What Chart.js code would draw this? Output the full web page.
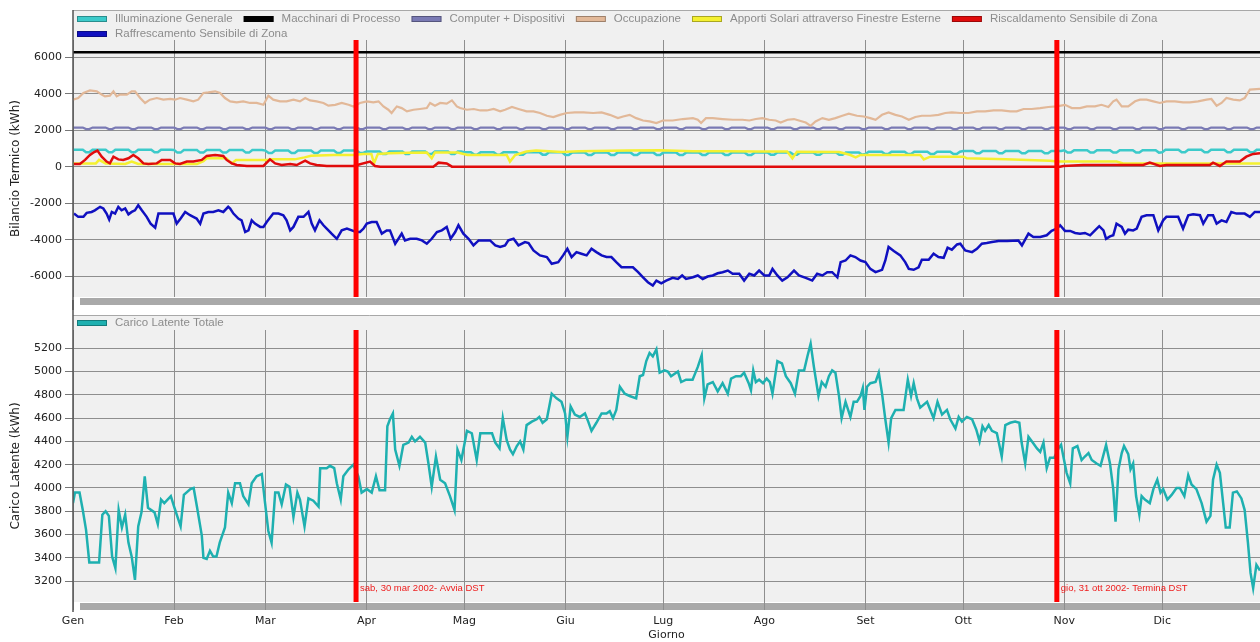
<!DOCTYPE html>
<html lang="it">
<head>
<meta charset="utf-8">
<title>Bilancio termico e carico latente</title>
<script src="https://cdn.jsdelivr.net/npm/chart.js@4.4.1/dist/chart.umd.min.js"></script>
<style>
  html, body { margin: 0; padding: 0; background: #fff; }
  #sopra { position: absolute; left: 0; top: 0; }
  #sotto { position: absolute; left: 0; top: 300px; }
</style>
</head>
<body>
<canvas id="sopra" width="1260" height="310"></canvas>
<canvas id="sotto" width="1260" height="342"></canvas>
<script>
// asse dei giorni (0 = 1 gen 2002)
const mesi = ['Gen', 'Feb', 'Mar', 'Apr', 'Mag', 'Giu', 'Lug', 'Ago', 'Set', 'Ott', 'Nov', 'Dic'];
const inizioMese = [0, 31, 59, 90, 120, 151, 181, 212, 243, 273, 304, 334];
const tickBilancio = [-6000, -4000, -2000, 0, 2000, 4000, 6000];
const tickLatente = [3200, 3400, 3600, 3800, 4000, 4200, 4400, 4600, 4800, 5000, 5200];

// cambi d'ora
const giorniDST = [86.8, 301.7];
const etichetteDST = ['sab, 30 mar 2002- Avvia DST', 'gio, 31 ott 2002- Termina DST'];

// livelli mensili (giorni feriali / festivi)
const illuminazioneFeriale = [930, 910, 880, 830, 790, 770, 770, 780, 820, 860, 900, 930];
const illuminazioneFestivo = [790, 770, 750, 700, 660, 640, 640, 650, 690, 730, 770, 790];
const computerFeriale = [2140, 2140, 2140, 2140, 2140, 2140, 2140, 2140, 2140, 2140, 2140, 2140];
const computerFestivo = [2060, 2060, 2060, 2060, 2060, 2060, 2060, 2060, 2060, 2060, 2060, 2060];

const macchinari = [[0, 6270], [364, 6270]];

const occupazione = [[0,3670],[1.6,3760],[3.2,4040],[5.2,4180],[7.3,4130],[8.8,3950],[9.8,3850],[11.3,3890],[12.4,4130],[13.4,3850],[14.4,3950],[16.5,3950],[18,4130],[19,4130],[20.6,3760],[22.1,3490],[23.6,3670],[25.7,3760],[27.7,3670],[29.8,3710],[31.3,3670],[32.8,3760],[34.9,3670],[36.9,3580],[38.4,3670],[40,4040],[41.5,4070],[43.6,4130],[45.1,4040],[46.6,3760],[48.2,3580],[50.2,3520],[52.2,3580],[54.3,3490],[56.3,3490],[58.4,3390],[59.9,3890],[61.4,3670],[63.5,3580],[65.5,3580],[67.6,3670],[69.6,3580],[71.2,3760],[72.7,3630],[74.7,3580],[76.8,3490],[78.3,3340],[80.4,3390],[82.4,3490],[84.5,3390],[86,3300],[88,3490],[90.1,3580],[92.1,3520],[93.7,3580],[95.2,3300],[96.7,3120],[97.7,2940],[99.3,3300],[100.8,3210],[102.4,3030],[104.4,3120],[106.4,3160],[108.5,3210],[109.5,3490],[111,3340],[112.6,3490],[114.6,3450],[116.2,3630],[117.7,3300],[118.7,3210],[120.8,3120],[122.9,3160],[124.9,3080],[126.9,3080],[129,3160],[131,3030],[132.5,3120],[134.6,3270],[136.6,3160],[139.1,3030],[141.2,3030],[143.2,2940],[145.3,2790],[147.3,2720],[149.3,2840],[151.4,2940],[153.9,2970],[156.5,2970],[159.5,2940],[162.1,2970],[164.6,2840],[167.1,2660],[168.7,2750],[170.7,2840],[172.7,2660],[174.8,2530],[176.8,2480],[178.9,2390],[180.9,2530],[183.9,2530],[187,2610],[190.1,2660],[191.6,2570],[192.6,2390],[194.1,2660],[196.2,2660],[199.2,2610],[202.3,2570],[205.3,2570],[207.4,2530],[209.4,2610],[211.4,2660],[213.5,2570],[215.5,2530],[217,2420],[219.1,2570],[221.1,2610],[222.6,2530],[224.7,2420],[226.2,2240],[227.7,2480],[229.8,2660],[231.8,2570],[233.8,2660],[235.9,2790],[237.9,2900],[240.4,2790],[242.5,2750],[244.5,2660],[246.1,2570],[248.1,2840],[250.1,2970],[252.2,2840],[254.2,2750],[256.3,2570],[258.3,2720],[260.3,2790],[262.9,2790],[265.4,2840],[267.5,2940],[269.5,2970],[272.1,2940],[274.6,2940],[277.2,3030],[279.7,3030],[282.3,3080],[284.8,3080],[287.4,3030],[289.4,3030],[291.5,3160],[294,3160],[296.6,3210],[299.1,3270],[301.7,3300],[304.2,3390],[306.3,3210],[308.8,3210],[310.9,3300],[313.4,3300],[315.4,3390],[317.5,3270],[319,3580],[320,3670],[321.6,3300],[323.6,3300],[325.7,3580],[327.2,3670],[329.2,3670],[331.3,3580],[333.3,3490],[335.3,3580],[337.9,3580],[340.4,3520],[342.5,3520],[345,3580],[347.6,3670],[349.1,3710],[350.7,3340],[352.2,3490],[353.7,3760],[355.8,3670],[357.8,3630],[359.3,3760],[360.9,4220],[364,4260]];

const apportiSolari = [[0,180],[7,180],[8,370],[10,180],[16,150],[18,280],[20,150],[38,150],[40,300],[41,460],[47,460],[48.7,180],[50,370],[59.4,370],[61,400],[68,400],[71,510],[73,600],[80,640],[86,640],[89,700],[91.5,700],[92.3,180],[93.5,700],[97,730],[103,760],[108.5,780],[110,460],[111,780],[118,780],[121,640],[133,640],[134,280],[135.6,640],[139,830],[142,880],[150,800],[155,850],[170,880],[180,900],[190,840],[200,850],[210,830],[219,830],[220.6,460],[222,820],[235,800],[238.4,640],[240,510],[241.5,640],[259.8,640],[260.9,400],[262.9,550],[273.1,550],[274.1,460],[286,400],[299.6,330],[301.7,280],[320,280],[322,180],[364,170]];

const riscaldamento = [[0.3,150],[2.1,150],[3.7,370],[5.2,640],[6.2,770],[7.5,880],[8.8,550],[10.3,280],[11.3,180],[12.4,550],[13.9,400],[15.4,370],[17,460],[18.5,640],[20,460],[21.6,180],[23.1,150],[25.7,180],[27.2,370],[29.8,370],[31.3,180],[32.8,150],[34.9,280],[36.9,280],[39.5,370],[41,590],[43.6,640],[46.1,590],[47.1,370],[48.7,180],[50.2,90],[53.3,40],[58.4,40],[60.4,400],[62,180],[64,90],[66.6,150],[68.6,90],[71.2,330],[72.7,180],[74.7,90],[77.8,40],[86,40],[91.1,280],[92.6,40],[94.2,0],[110.5,0],[112.1,220],[114.6,180],[116.2,0],[302.7,0],[303.7,40],[309.8,90],[328.2,90],[330.2,220],[333.3,40],[335.3,90],[348.6,90],[349.6,220],[351.7,40],[353.7,280],[357.8,280],[359.8,550],[361.9,700],[364,730]];

const raffrescamento = [[0.3,-2570],[1.6,-2750],[3.2,-2750],[4.2,-2530],[5.7,-2480],[6.7,-2390],[8.3,-2200],[9.3,-2290],[10.3,-2570],[11.1,-2900],[11.9,-2480],[12.9,-2570],[13.9,-2200],[14.9,-2390],[16,-2290],[17,-2610],[18,-2480],[19,-2390],[20,-2110],[21.1,-2390],[22.6,-2750],[23.8,-3120],[25.2,-3340],[26.2,-2570],[27.7,-2570],[30.8,-2570],[31.8,-3120],[33,-2840],[34.4,-2480],[35.9,-2660],[36.9,-2750],[37.9,-2840],[39,-3120],[40,-2570],[41.5,-2480],[43,-2480],[44.6,-2390],[46.1,-2480],[47.6,-2200],[48.2,-2290],[49.2,-2570],[50.7,-2840],[51.7,-2940],[52.8,-3580],[53.8,-3490],[54.8,-2940],[55.8,-3120],[57.4,-3300],[58.4,-3300],[59.4,-3030],[61.4,-2570],[63,-2570],[64.5,-2660],[65.5,-2940],[66.6,-3490],[67.6,-3300],[69.1,-2750],[70.7,-2750],[72.2,-2480],[73.2,-3120],[74.2,-3490],[75.6,-2940],[76.8,-3210],[77.8,-3390],[79.3,-3670],[80.9,-3950],[82.4,-3490],[84,-3390],[85.5,-3490],[86.8,-3580],[88,-3580],[89.1,-3390],[90.1,-3120],[91.6,-3030],[93.1,-3030],[94.7,-3670],[96.2,-3490],[97.2,-3490],[98.8,-4220],[99.8,-3950],[100.8,-3670],[101.8,-4040],[103.4,-3950],[105.4,-3950],[107,-4040],[108.5,-4220],[110,-3950],[111.6,-3580],[113.1,-3490],[114.6,-3300],[115.8,-3950],[117.2,-3580],[118.2,-3210],[119.7,-3670],[121.3,-3950],[122.8,-4310],[124.4,-4040],[125.9,-4040],[127.9,-4040],[129.5,-4310],[131,-4400],[132.5,-4310],[133.5,-4040],[135.1,-3950],[136.6,-4310],[138.6,-4130],[139.7,-4180],[141.2,-4590],[143.2,-4860],[145.3,-4950],[146.8,-5320],[148.8,-5230],[150.3,-4860],[151.6,-4500],[152.9,-4950],[154.4,-4680],[155.9,-4770],[157.5,-4860],[159,-4500],[160.5,-4680],[162.1,-4860],[163.6,-4950],[165.1,-4950],[166.6,-5230],[168.2,-5510],[170.2,-5510],[171.7,-5510],[173.3,-5780],[174.8,-6060],[176.3,-6330],[177.8,-6510],[178.9,-6240],[180.4,-6390],[181.9,-6240],[183.9,-6090],[185.5,-6150],[186.8,-5960],[188,-6150],[190.1,-6060],[191.6,-5960],[193.1,-6150],[194.6,-6020],[196.2,-5960],[197.7,-5840],[199.2,-5780],[200.8,-5690],[202.3,-5870],[204.3,-5870],[205.8,-6240],[207.4,-5870],[208.9,-5960],[210.4,-5690],[212,-5960],[213.5,-5960],[214.5,-5600],[216,-5960],[217.5,-6240],[219.1,-6060],[221.1,-5690],[222.6,-5960],[224.7,-6090],[226.7,-6240],[228.2,-5870],[229.8,-5960],[231.3,-5780],[232.8,-5780],[234.4,-6060],[235.4,-5230],[236.9,-5140],[238.4,-4860],[239.9,-4950],[241.5,-5140],[243,-5230],[244.5,-5600],[246.1,-5780],[248.1,-5650],[249.1,-5140],[250.1,-4400],[251.7,-4620],[253.7,-4860],[255.2,-5230],[256.3,-5600],[257.8,-5650],[259.3,-5510],[260.3,-5100],[262.4,-5100],[263.9,-4770],[265.4,-4950],[267,-4990],[268.2,-4440],[269.5,-4550],[271.1,-4260],[272.1,-4220],[273.6,-4590],[275.7,-4680],[277.2,-4500],[278.7,-4220],[280.2,-4180],[281.8,-4130],[283.8,-4070],[286.4,-4070],[289.9,-4040],[291,-4310],[293,-3670],[294.5,-3850],[296.6,-3850],[298.6,-3760],[300.1,-3520],[301.7,-3390],[302.7,-3210],[304.2,-3520],[305.8,-3520],[307.3,-3630],[308.8,-3670],[310.3,-3630],[311.9,-3760],[313.4,-3490],[314.7,-3260],[316,-3490],[316.8,-3950],[318,-3820],[319,-3760],[320,-3120],[321.6,-3300],[322.6,-3670],[323.6,-3450],[325.1,-3490],[326.2,-3390],[327.7,-2750],[329.2,-2660],[331.3,-2660],[332.8,-3490],[334.3,-2940],[335.3,-2750],[337.4,-2750],[338.9,-2750],[340.4,-3390],[342,-2660],[343.5,-2610],[345.6,-2660],[346.6,-3120],[348.1,-2660],[349.6,-2660],[350.7,-3120],[352.2,-2940],[353.7,-3030],[355.2,-2480],[356.8,-2570],[359.3,-2570],[360.9,-2750],[362.4,-2480],[364,-2480]];

const caricoLatente = [[0,3870],[0.6,3960],[2,3960],[3,3810],[4,3640],[5,3360],[8,3360],[9,3770],[10,3800],[11,3760],[12,3410],[13,3310],[14,3810],[15,3660],[16,3770],[17,3530],[18,3410],[19,3210],[20,3670],[21,3790],[22,4100],[23,3830],[25,3790],[26,3690],[27,3900],[28,3870],[30,3930],[31,3840],[33,3670],[34,3940],[36,3990],[37,4000],[38,3840],[39.5,3590],[40,3400],[41,3390],[42,3460],[43,3410],[44,3410],[45,3530],[46.6,3660],[47.6,3960],[48.7,3870],[49.7,4040],[51.2,4040],[52.2,3930],[53.8,3860],[54.8,4040],[56.3,4100],[57.9,4120],[58.9,3870],[59.9,3630],[60.9,3530],[62,3960],[63,3960],[64,3860],[65.3,4030],[66.4,4010],[67.6,3750],[68.8,3960],[69.6,3900],[71,3670],[72.2,3910],[73.7,3890],[75.3,3840],[75.8,4170],[77.8,4170],[78.8,4190],[80.1,4170],[80.9,4040],[82.1,3900],[82.9,4100],[84.5,4160],[86,4200],[87.5,4100],[88.5,3960],[90.1,3990],[91.6,3960],[92.9,4100],[94,3980],[95.7,3980],[96.4,4530],[97.2,4590],[98.1,4640],[98.8,4330],[100.1,4190],[101.3,4370],[102.9,4390],[103.9,4440],[104.9,4400],[106.4,4440],[108,4390],[109,4210],[110,4010],[111.3,4270],[112.6,4070],[114.1,4040],[115.6,3930],[117,3810],[117.9,4330],[119.1,4240],[120.8,4490],[122.3,4470],[123.8,4240],[124.9,4470],[126.4,4470],[128.5,4470],[129.5,4390],[130.8,4340],[131.8,4600],[133,4410],[134,4330],[134.9,4290],[136.1,4360],[137.1,4400],[138.1,4330],[139.1,4540],[140.7,4570],[142.2,4590],[143,4610],[144,4560],[145.3,4590],[146.8,4810],[148.3,4770],[149.8,4740],[150.9,4640],[151.6,4440],[152.6,4700],[153.9,4630],[155.4,4610],[157,4640],[158,4570],[159,4490],[160.5,4560],[162.1,4640],[163.6,4640],[164.6,4660],[165.6,4600],[166.6,4670],[167.7,4870],[169.2,4810],[170.7,4790],[172.7,4770],[173.8,4960],[174.8,4970],[175.8,5090],[176.8,5160],[177.8,5130],[178.9,5190],[179.9,4990],[181.4,5010],[182.4,5000],[183.4,4960],[185.5,5000],[186.5,4910],[188,4930],[190,4930],[191.6,5040],[192.8,5140],[193.6,4770],[194.6,4890],[196.2,4910],[197.7,4830],[199.2,4900],[200.8,4810],[201.8,4940],[203.3,4960],[204.8,4960],[205.8,4990],[207.2,4900],[207.9,4840],[208.6,5010],[209.4,4910],[210.4,4930],[211.6,4900],[212.7,4940],[213.7,4910],[214.5,4810],[216,5090],[217.4,5070],[218.6,4960],[220.1,4900],[221.4,4810],[222.6,5010],[224.2,5010],[225.2,5130],[226.2,5240],[227.2,5040],[228.6,4790],[229.6,4910],[230.8,4870],[231.8,4960],[232.8,5010],[233.8,4990],[234.9,4790],[235.7,4600],[236.9,4740],[238.4,4610],[239.4,4740],[240.4,4740],[241.5,4790],[242.2,4860],[242.7,4670],[243.5,4870],[244.5,4900],[246.1,4910],[247.1,4990],[248.1,4810],[249.1,4590],[250.1,4390],[250.9,4600],[252.2,4670],[253.7,4670],[254.7,4670],[256,4930],[257,4790],[257.8,4900],[258.8,4770],[259.8,4690],[261.9,4740],[262.9,4670],[263.9,4600],[265.1,4740],[266.5,4630],[268,4670],[269,4590],[270.6,4510],[271.6,4610],[272.6,4570],[274.1,4610],[275.7,4590],[277,4500],[278,4400],[278.9,4530],[279.7,4490],[280.8,4540],[281.8,4490],[283.3,4470],[284.8,4270],[285.9,4540],[287.4,4560],[288.9,4570],[290.2,4560],[290.9,4390],[292,4210],[293,4440],[294.3,4390],[295.6,4340],[296.6,4310],[297.6,4390],[298.6,4170],[299.6,4260],[300.9,4260],[302.2,4340],[303,4370],[303.7,4270],[304.7,4130],[305.8,4040],[306.6,4340],[308,4360],[309.3,4240],[310.3,4270],[311.4,4300],[312.4,4240],[313.9,4210],[315.1,4190],[316.8,4370],[318,4210],[319,3990],[319.7,3710],[320.6,4160],[321.6,4300],[322.3,4360],[323.6,4290],[324.3,4160],[325.1,4210],[326,3930],[327,3770],[327.7,3930],[328.7,3900],[330.2,3870],[331.3,3990],[332.5,4070],[333.5,3960],[334.3,3990],[335.6,3900],[336.9,3940],[338.4,4000],[339.4,4000],[340.8,3930],[342,4110],[343,4030],[344.5,3990],[346.1,3870],[347.6,3710],[348.8,3760],[349.6,4070],[350.7,4200],[351.7,4130],[352.7,3870],[353.5,3660],[354.7,3660],[355.7,3960],[356.9,3970],[358.3,3910],[359.3,3810],[360.3,3530],[361.1,3270],[361.9,3140],[362.9,3340],[364,3290]];

// --- costruzione serie ---
const punti = arr => arr.map(([x, y]) => ({x: x, y: y}));

// serie giornaliera dai livelli mensili: sabato e domenica usano il valore festivo
function giornaliera(feriale, festivo) {
  const out = [];
  for (let g = 0; g < 365; g++) {
    let m = 0;
    while (m < 11 && inizioMese[m + 1] <= g) m++;
    const dow = (g + 2) % 7; // 1 gen 2002 era martedi
    out.push({x: g, y: (dow === 0 || dow === 6) ? festivo[m] : feriale[m]});
  }
  return out;
}

const FONT_ASSI = '"DejaVu Sans", Verdana, sans-serif';
const FONT_LEGENDA = '"Liberation Sans", Arial, sans-serif';
Chart.defaults.font.family = FONT_ASSI;
Chart.defaults.font.size = 11;
Chart.defaults.color = '#222';

const GRIGLIA = '#8e8e8e';

// sfondo del pannello, linee DST, legenda interna, banda grigia sotto il grafico
const cornice = {
  id: 'cornice',
  beforeDraw(chart, args, opts) {
    const {ctx, chartArea: a} = chart;
    ctx.save();
    ctx.fillStyle = '#f0f0f0';
    ctx.fillRect(a.left, opts.pannelloTop, a.right - a.left, a.bottom - opts.pannelloTop);
    ctx.strokeStyle = '#a8a8a8';
    ctx.lineWidth = 1;
    ctx.beginPath();
    ctx.moveTo(a.left, opts.pannelloTop + 0.5);
    ctx.lineTo(a.right, opts.pannelloTop + 0.5);
    ctx.stroke();
    ctx.fillStyle = '#a9a9a9';
    ctx.fillRect(a.left + 7, a.bottom + 1, a.right - a.left - 7, 7);
    ctx.restore();
  },
  afterDatasetsDraw(chart, args, opts) {
    const {ctx, chartArea: a, scales: {x}} = chart;
    ctx.save();
    giorniDST.forEach((g, i) => {
      const px = x.getPixelForValue(g);
      ctx.strokeStyle = '#ff0000';
      ctx.lineWidth = 5;
      ctx.beginPath();
      ctx.moveTo(px, a.top);
      ctx.lineTo(px, a.bottom);
      ctx.stroke();
      if (opts.etichette) {
        ctx.fillStyle = '#ee1c1c';
        ctx.font = '9.5px ' + FONT_LEGENDA;
        ctx.textBaseline = 'middle';
        ctx.fillText(etichetteDST[i], px + 4, a.bottom - 14);
      }
    });
    ctx.restore();
  },
  afterDraw(chart, args, opts) {
    const {ctx, chartArea: a} = chart;
    ctx.save();
    // asse sinistro prolungato
    ctx.strokeStyle = '#555';
    ctx.lineWidth = 1.5;
    ctx.beginPath();
    ctx.moveTo(a.left, opts.assaDa);
    ctx.lineTo(a.left, opts.assaA);
    ctx.stroke();
    // legenda
    ctx.font = '11.5px ' + FONT_LEGENDA;
    ctx.textBaseline = 'middle';
    let lx = a.left + 4, ly = opts.legendaY;
    chart.data.datasets.forEach(ds => {
      const w = 38 + ctx.measureText(ds.label).width;
      if (lx + w > a.right - 10) { lx = a.left + 4; ly += 15; }
      ctx.fillStyle = ds.borderColor;
      ctx.fillRect(lx, ly - 3, 30, 6);
      ctx.strokeStyle = 'rgba(0,0,0,0.3)';
      ctx.lineWidth = 1;
      ctx.strokeRect(lx + 0.5, ly - 2.5, 29, 5);
      ctx.fillStyle = '#8c8c8c';
      ctx.fillText(ds.label, lx + 38, ly);
      lx += w + 11;
    });
    ctx.restore();
  }
};

function serie(label, colore, dati, spessore, ordine) {
  return {
    label: label, data: dati, borderColor: colore, backgroundColor: colore,
    borderWidth: spessore, pointRadius: 0, tension: 0, fill: false, order: ordine
  };
}

const numero = v => String(v);

new Chart(document.getElementById('sopra'), {
  type: 'line',
  data: {
    datasets: [
      serie('Illuminazione Generale', '#3ccaca', giornaliera(illuminazioneFeriale, illuminazioneFestivo), 2.5, 7),
      serie('Macchinari di Processo', '#000000', punti(macchinari), 2.5, 6),
      serie('Computer + Dispositivi', '#7a7ab4', giornaliera(computerFeriale, computerFestivo), 2.2, 5),
      serie('Occupazione', '#e2b898', punti(occupazione), 2.2, 4),
      serie('Apporti Solari attraverso Finestre Esterne', '#f4f030', punti(apportiSolari), 2.5, 3),
      serie('Riscaldamento Sensibile di Zona', '#e00c0c', punti(riscaldamento), 2.5, 2),
      serie('Raffrescamento Sensibile di Zona', '#1010c0', punti(raffrescamento), 2.5, 1)
    ]
  },
  options: {
    responsive: false,
    devicePixelRatio: 1,
    animation: false,
    layout: { padding: { top: 40, bottom: 13, left: 0, right: 0 } },
    plugins: {
      legend: { display: false },
      tooltip: { enabled: false },
      cornice: { pannelloTop: 10, legendaY: 19, etichette: false, assaDa: 10, assaA: 310 }
    },
    scales: {
      x: {
        type: 'linear', min: 0, max: 364,
        afterBuildTicks: s => { s.ticks = inizioMese.map(v => ({value: v})); },
        afterFit: s => { s.height = 0; },
        ticks: { display: false },
        grid: { color: GRIGLIA, lineWidth: 1, drawTicks: false },
        border: { display: false }
      },
      y: {
        min: -7140, max: 6940,
        afterBuildTicks: s => { s.ticks = tickBilancio.map(v => ({value: v})); },
        afterFit: s => { s.width = 73; },
        ticks: { color: '#222', padding: 3, callback: numero },
        grid: { color: GRIGLIA, lineWidth: 1, tickLength: 8, tickColor: '#777' },
        border: { display: false },
        title: { display: true, text: 'Bilancio Termico (kWh)', color: '#222', font: { size: 12 },
                 padding: { top: 9, bottom: 0 } }
      }
    }
  },
  plugins: [cornice]
});

new Chart(document.getElementById('sotto'), {
  type: 'line',
  data: {
    datasets: [
      serie('Carico Latente Totale', '#1eb0b0', punti(caricoLatente), 2.5, 1)
    ]
  },
  options: {
    responsive: false,
    devicePixelRatio: 1,
    animation: false,
    layout: { padding: { top: 30, bottom: 0, left: 0, right: 0 } },
    plugins: {
      legend: { display: false },
      tooltip: { enabled: false },
      cornice: { pannelloTop: 15, legendaY: 23, etichette: true, assaDa: 0, assaA: 312 }
    },
    scales: {
      x: {
        type: 'linear', min: 0, max: 364,
        afterBuildTicks: s => { s.ticks = inizioMese.map(v => ({value: v})); },
        afterFit: s => { s.height = 40; },
        ticks: { color: '#222', padding: 5, maxRotation: 0, autoSkip: false,
                 callback: (v, i) => mesi[i] },
        grid: { color: GRIGLIA, lineWidth: 1, tickLength: 8, tickColor: GRIGLIA },
        border: { display: false },
        title: { display: true, text: 'Giorno', color: '#222', padding: { top: 0, bottom: 0 } }
      },
      y: {
        min: 3020, max: 5357,
        afterBuildTicks: s => { s.ticks = tickLatente.map(v => ({value: v})); },
        afterFit: s => { s.width = 73; },
        ticks: { color: '#222', padding: 3, callback: numero },
        grid: { color: GRIGLIA, lineWidth: 1, tickLength: 8, tickColor: '#777' },
        border: { display: false },
        title: { display: true, text: 'Carico Latente (kWh)', color: '#222', font: { size: 12 },
                 padding: { top: 9, bottom: 0 } }
      }
    }
  },
  plugins: [cornice]
});
</script>
</body>
</html>
